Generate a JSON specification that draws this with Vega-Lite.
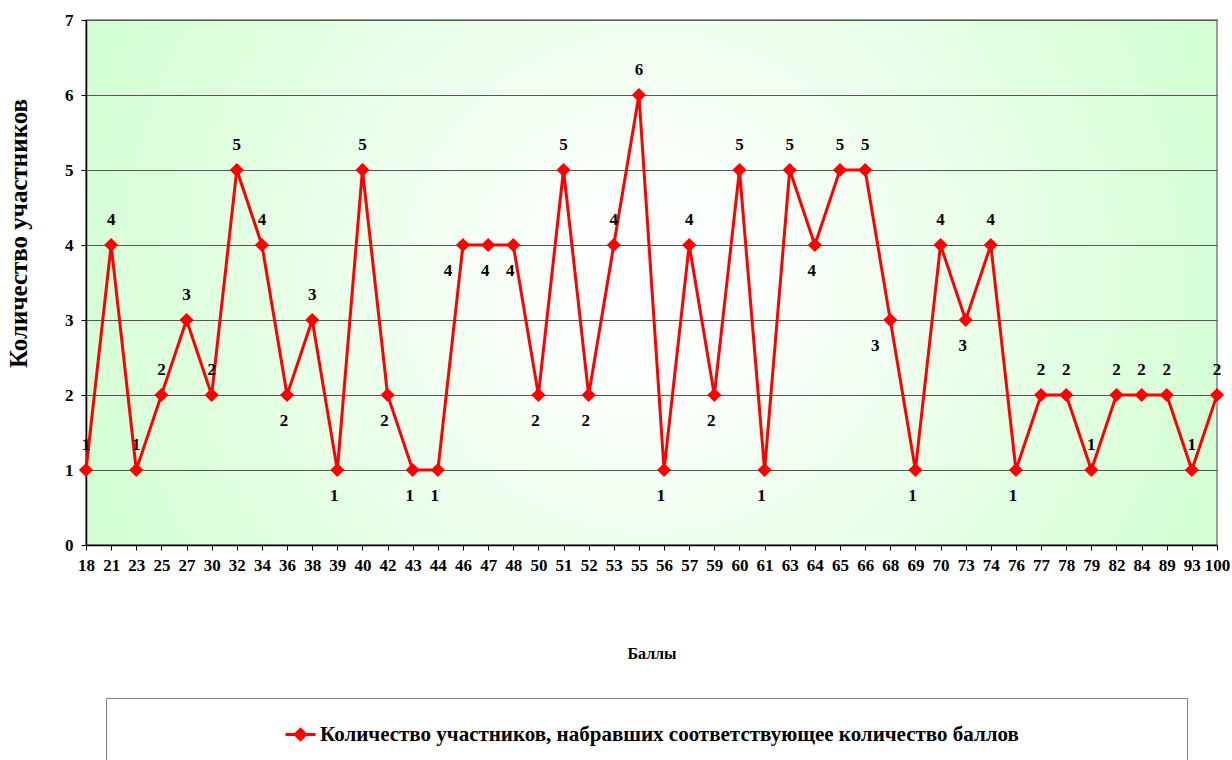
{
  "$schema": "https://vega.github.io/schema/vega-lite/v6.json",
  "autosize": {"type": "none"},
  "width": 1131,
  "height": 525,
  "padding": {"left": 86, "top": 20, "right": 15, "bottom": 215},
  "background": "white",
  "config": {
    "font": "Times New Roman, Liberation Serif, serif",
    "view": {
      "stroke": "#808080",
      "strokeWidth": 1.5,
      "fill": {
        "gradient": "radial",
        "x1": 0.5, "y1": 0.5, "r1": 0,
        "x2": 0.5, "y2": 0.5, "r2": 0.62,
        "stops": [
          {"offset": 0, "color": "#ffffff"},
          {"offset": 0.15, "color": "#fbfffb"},
          {"offset": 1, "color": "#ccffcc"}
        ]
      }
    },
    "axis": {
      "labelFont": "Times New Roman, Liberation Serif, serif",
      "labelFontWeight": "bold",
      "labelFontSize": 17,
      "labelColor": "#000000",
      "titleFont": "Times New Roman, Liberation Serif, serif",
      "titleFontWeight": "bold",
      "titleColor": "#000000",
      "domainColor": "#000000",
      "domainWidth": 1.5,
      "tickColor": "#000000",
      "tickSize": 5,
      "tickWidth": 1
    }
  },
  "data": {
    "values": [
      {"ball": 18, "n": 1}, {"ball": 21, "n": 4}, {"ball": 23, "n": 1}, {"ball": 25, "n": 2},
      {"ball": 27, "n": 3}, {"ball": 30, "n": 2}, {"ball": 32, "n": 5}, {"ball": 34, "n": 4},
      {"ball": 36, "n": 2}, {"ball": 38, "n": 3}, {"ball": 39, "n": 1}, {"ball": 40, "n": 5},
      {"ball": 42, "n": 2}, {"ball": 43, "n": 1}, {"ball": 44, "n": 1}, {"ball": 46, "n": 4},
      {"ball": 47, "n": 4}, {"ball": 48, "n": 4}, {"ball": 50, "n": 2}, {"ball": 51, "n": 5},
      {"ball": 52, "n": 2}, {"ball": 53, "n": 4}, {"ball": 55, "n": 6}, {"ball": 56, "n": 1},
      {"ball": 57, "n": 4}, {"ball": 59, "n": 2}, {"ball": 60, "n": 5}, {"ball": 61, "n": 1},
      {"ball": 63, "n": 5}, {"ball": 64, "n": 4}, {"ball": 65, "n": 5}, {"ball": 66, "n": 5},
      {"ball": 68, "n": 3}, {"ball": 69, "n": 1}, {"ball": 70, "n": 4}, {"ball": 73, "n": 3},
      {"ball": 74, "n": 4}, {"ball": 76, "n": 1}, {"ball": 77, "n": 2}, {"ball": 78, "n": 2},
      {"ball": 79, "n": 1}, {"ball": 82, "n": 2}, {"ball": 84, "n": 2}, {"ball": 89, "n": 2},
      {"ball": 93, "n": 1}, {"ball": 100, "n": 2}
    ]
  },
  "encoding": {
    "x": {
      "field": "ball",
      "type": "ordinal",
      "sort": null,
      "scale": {"type": "point", "padding": 0},
      "axis": {
        "title": "Баллы",
        "titleFontSize": 16,
        "titlePadding": 72,
        "labelAngle": 0,
        "labelPadding": 7,
        "grid": false
      }
    },
    "y": {
      "field": "n",
      "type": "quantitative",
      "scale": {"domain": [0, 7], "nice": false},
      "axis": {
        "title": "Количество  участников",
        "titleFontSize": 25,
        "titleX": -68,
        "titleY": 213,
        "titleBaseline": "middle",
        "values": [0, 1, 2, 3, 4, 5, 6, 7],
        "labelPadding": 8,
        "grid": true,
        "gridColor": "#555555",
        "gridWidth": 1
      }
    }
  },
  "layer": [
    {
      "mark": {"type": "line", "strokeWidth": 3},
      "encoding": {
        "color": {
          "datum": "Количество участников, набравших соответствующее количество баллов",
          "scale": {"range": ["#ff0000"]},
          "legend": {
            "title": "\u00a0",
            "titleOrient": "right",
            "titlePadding": 148,
            "titleFontSize": 10,
            "orient": "none",
            "legendX": 20,
            "legendY": 678,
            "padding": 20,
            "strokeColor": "#808080",
            "fillColor": "#ffffff",
            "symbolType": "M-1,0L1,0M0,-0.35L0.35,0L0,0.35L-0.35,0Z",
            "symbolSize": 900,
            "symbolStrokeWidth": 3,
            "symbolFillColor": "#ff0000",
            "symbolStrokeColor": "#ff0000",
            "symbolOffset": 158,
            "labelOffset": 3,
            "labelFont": "Times New Roman, Liberation Serif, serif",
            "labelFontWeight": "bold",
            "labelFontSize": 21,
            "labelColor": "#000000",
            "labelLimit": 3000
          }
        }
      }
    },
    {
      "mark": {"type": "point", "shape": "diamond", "filled": true, "size": 200, "color": "#ff0000", "opacity": 1}
    },
    {
      "transform": [{"filter": {"not": {"field": "ball", "oneOf": [36, 39, 42, 43, 44, 46, 47, 48, 50, 52, 56, 59, 61, 64, 68, 69, 73, 76]}}}],
      "mark": {"type": "text", "dy": -25, "fontWeight": "bold", "fontSize": 17, "font": "Times New Roman, Liberation Serif, serif", "color": "#000000"},
      "encoding": {"text": {"field": "n", "type": "quantitative"}}
    },
    {
      "transform": [{"filter": {"field": "ball", "oneOf": [36, 39, 42, 43, 44, 47, 48, 50, 52, 56, 59, 61, 64, 69, 73, 76]}}],
      "mark": {"type": "text", "dy": 26, "dx": -3, "fontWeight": "bold", "fontSize": 17, "font": "Times New Roman, Liberation Serif, serif", "color": "#000000"},
      "encoding": {"text": {"field": "n", "type": "quantitative"}}
    },
    {
      "transform": [{"filter": {"field": "ball", "oneOf": [46, 68]}}],
      "mark": {"type": "text", "dy": 26, "dx": -15, "fontWeight": "bold", "fontSize": 17, "font": "Times New Roman, Liberation Serif, serif", "color": "#000000"},
      "encoding": {"text": {"field": "n", "type": "quantitative"}}
    }
  ]
}
